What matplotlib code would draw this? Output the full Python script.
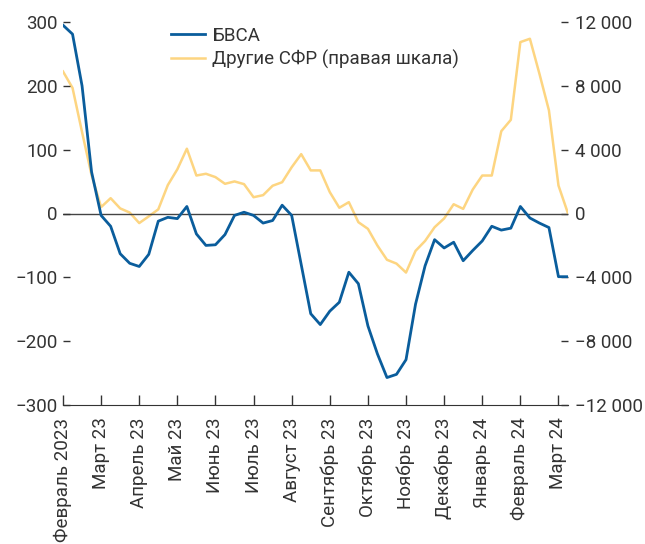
import numpy as np
import matplotlib
matplotlib.use('Agg')
import matplotlib.pyplot as plt
from matplotlib.lines import Line2D

plt.rcParams['font.family'] = ['Roboto', 'DejaVu Sans']

# weekly points, 4 per month, Feb 2023 .. Mar 2024
bvsa = [295, 281, 200, 65, -3, -20, -63, -78, -83, -64,
        -12, -6, -8, 11, -32, -50, -49, -33, -3, 2,
        -3, -15, -11, 13, -3, -80, -157, -174, -153, -139,
        -92, -110, -176, -220, -257, -252, -229, -142, -82, -41,
        -54, -45, -74, -58, -43, -20, -26, -23, 11, -7,
        -15, -22, -99, -99]
other = [8900, 7870, 5100, 2400, 400, 960, 320, 60, -600, -180,
         260, 1780, 2770, 4060, 2380, 2490, 2280, 1860, 2010, 1840,
         1020, 1150, 1740, 1960, 2900, 3720, 2700, 2700, 1340, 360,
         710, -545, -960, -2010, -2900, -3140, -3700, -2340, -1720, -860,
         -310, 580, 290, 1500, 2380, 2380, 5160, 5870, 10740, 10950,
         8760, 6460, 1755, 0]
months = ['Февраль 2023', 'Март 23', 'Апрель 23', 'Май 23', 'Июнь 23', 'Июль 23',
          'Август 23', 'Сентябрь 23', 'Октябрь 23', 'Ноябрь 23', 'Декабрь 23',
          'Январь 24', 'Февраль 24', 'Март 24']
left_ticks = [300, 200, 100, 0, -100, -200, -300]
right_ticks = [12000, 8000, 4000, 0, -4000, -8000, -12000]

blue = '#0a5d9c'
yellow = '#fdd581'
txt = '#333333'

x = np.arange(len(bvsa))

fig = plt.figure(figsize=(6.45, 5.44), dpi=100)
ax = fig.add_axes([63/645, 1-405/544, (568-63)/645, (405-22)/544])
ax2 = ax.twinx()

ax.axhline(0, color='#444444', lw=1, zorder=1)
ax2.plot(x, other, color=yellow, lw=1.8, zorder=2)
ax.plot(x, bvsa, color=blue, lw=2.0, zorder=3)
ax.set_zorder(ax2.get_zorder() + 1)
ax.patch.set_visible(False)

ax.set_xlim(0, len(bvsa) - 1)
ax.set_ylim(-300, 300)
ax2.set_ylim(-12000, 12000)

ax.set_xticks(np.arange(len(months)) * 4)
ax.set_xticklabels(months, rotation=90)
ax.set_yticks(left_ticks)
ax.set_yticklabels([str(v).replace('-', '\u2212') for v in left_ticks])
ax2.set_yticks(right_ticks)
ax2.set_yticklabels([f'{v:,}'.replace(',', ' ').replace('-', '\u2212') for v in right_ticks])

for a in (ax, ax2):
    for s in ('top', 'left', 'right'):
        a.spines[s].set_visible(False)
    a.tick_params(colors=txt, labelsize=13.5, direction='in', length=5, width=1)
ax2.spines['bottom'].set_visible(False)
ax.spines['bottom'].set_color('#333333')
ax.tick_params(axis='x', length=7, pad=9)
ax.tick_params(axis='y', pad=4)
ax2.tick_params(axis='y', pad=5)

handles = [Line2D([], [], color=blue, lw=2.0), Line2D([], [], color=yellow, lw=1.8)]
ax.legend(handles, ['БВСА', 'Другие СФР (правая шкала)'], loc='upper left',
          bbox_to_anchor=(0.195, 1.012), frameon=False, fontsize=13.5,
          handlelength=1.8, handletextpad=0.4, labelspacing=0.25, borderpad=0,
          labelcolor=txt)

fig.savefig('out.png', dpi=100)
